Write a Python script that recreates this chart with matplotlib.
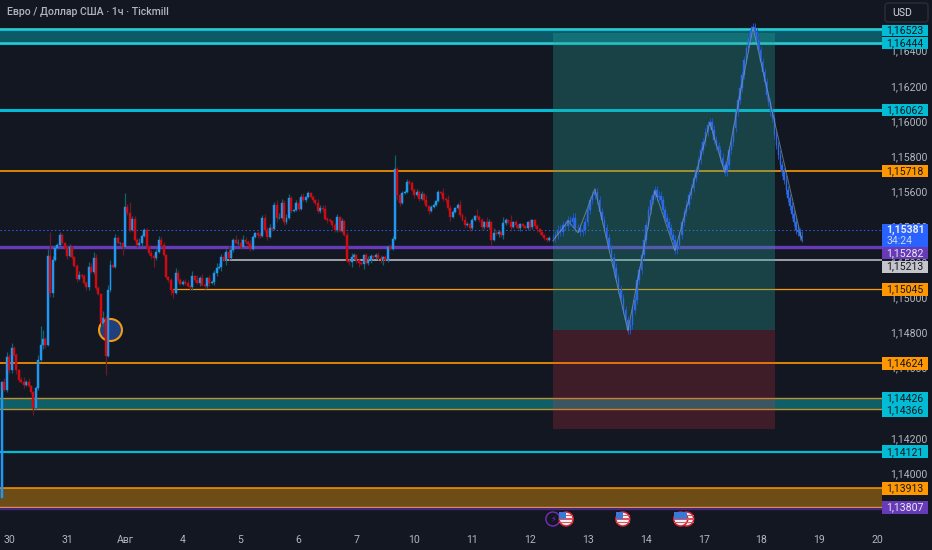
import numpy as np
import matplotlib
matplotlib.use('Agg')
import matplotlib.pyplot as plt
from matplotlib.patches import Rectangle, Ellipse, Circle, FancyBboxPatch

plt.rcParams['font.family'] = ['Roboto', 'DejaVu Sans']

# Prices are in points: 115263 means 1,15263
first_open = 113860
closes = [
    114513,114468,114655,114581,114706,114667,114581,114525,114513,114496,114513,114491,114456,114366,114479,114638,114723,114757,114723,115229,
    115019,115206,115274,115291,115348,115303,115274,115229,115280,115223,115172,115098,115121,115115,115075,115053,115166,115138,115218,115047,
    115013,114848,114877,114661,115036,115178,115166,115331,115303,115303,115280,115507,115473,115377,115439,115320,115291,115303,115343,115377,
    115280,115246,115229,115218,115252,115320,115291,115235,115110,115093,115036,115019,115132,115093,115070,115081,115075,115059,115053,115115,
    115093,115075,115104,115064,115059,115104,115075,115081,115132,115161,115166,115223,115206,115252,115218,115263,115320,115303,115303,115280,
    115320,115309,115297,115269,115337,115360,115348,115343,115445,115377,115337,115388,115382,115519,115445,115445,115530,115422,115445,115558,
    115485,115490,115530,115496,115564,115547,115564,115587,115564,115547,115530,115485,115502,115496,115439,115433,115428,115405,115377,115451,
    115371,115428,115348,115201,115195,115223,115235,115206,115189,115184,115235,115189,115206,115229,115223,115235,115218,115212,115223,115206,
    115280,115269,115325,115723,115575,115530,115587,115592,115649,115644,115604,115575,115592,115553,115581,115547,115513,115485,115507,115519,
    115541,115592,115587,115553,115547,115502,115451,115479,115502,115519,115462,115433,115405,115411,115388,115433,115456,115451,115433,115394,
    115422,115394,115422,115320,115360,115354,115365,115348,115416,115433,115422,115394,115422,115405,115388,115411,115399,115388,115422,115394,
    115433,115399,115382,115365,115348,115331,115320,115331,
]
upper_wick = [
    5,20,30,15,30,10,10,5,15,30,10,25,5,5,10,30,110,50,10,40,
    136,20,15,10,15,10,5,15,15,5,5,10,20,5,10,10,30,25,35,20,
    10,5,40,15,30,30,5,25,10,5,5,80,15,60,15,15,10,25,10,10,
    10,10,15,10,15,20,15,15,5,5,10,5,30,15,10,10,15,15,5,30,
    5,25,10,25,10,5,15,10,15,25,20,15,25,15,35,15,10,25,20,25,
    30,15,10,25,10,5,10,15,15,20,15,20,5,15,30,30,25,15,20,20,
    10,5,15,30,15,25,5,10,5,10,5,20,15,15,25,10,10,5,10,15,
    5,15,5,15,10,25,10,5,5,10,5,10,20,10,5,10,15,15,5,10,
    10,15,15,80,10,5,10,10,15,10,10,10,15,10,15,5,30,5,10,10,
    5,10,5,25,10,30,15,10,5,10,30,10,20,10,10,10,5,40,10,10,
    5,30,15,5,25,15,10,5,35,10,5,40,5,10,5,5,5,5,5,15,
    5,5,10,5,5,5,5,10,
]
lower_wick = [
    10,5,10,20,15,5,25,10,5,15,5,5,10,40,5,10,5,25,15,5,
    25,25,5,5,5,5,5,15,5,10,5,15,5,10,5,15,20,5,10,10,
    5,10,15,108,5,10,5,5,5,10,45,5,10,10,5,5,10,5,15,5,
    10,10,15,50,15,5,10,5,5,10,30,30,5,10,5,5,10,5,15,20,
    10,5,15,5,20,10,15,5,15,20,5,25,5,30,15,5,10,5,10,10,
    5,10,5,10,5,5,15,10,5,10,15,5,10,5,25,5,5,15,10,5,
    10,5,5,10,5,5,10,5,5,10,10,15,10,15,5,15,5,15,10,10,
    5,5,5,5,20,30,10,20,25,5,30,5,10,15,10,10,10,25,35,5,
    10,5,5,5,30,20,5,5,5,5,5,15,5,10,5,15,5,20,5,5,
    5,5,10,10,20,15,25,5,5,5,10,5,15,5,20,10,5,5,10,15,
    10,5,10,30,5,5,15,10,25,10,10,25,5,15,5,15,10,5,10,20,
    10,10,15,15,5,10,10,5,
]

# Projected path drawn after the real bars
proj_closes = [
    115331,115348,115377,115365,115405,115399,115433,115422,115445,115388,115388,115365,115377,115422,115490,115547,115575,115592,115547,115479,
    115433,115388,115331,115274,115218,115161,115104,115036,114990,114922,114865,114809,114837,114922,114979,115093,115149,115235,115320,115405,
    115490,115547,115575,115604,115564,115570,115547,115490,115445,115422,115388,115348,115320,115263,115291,115348,115422,115479,115519,115575,
    115615,115672,115717,115774,115831,115876,115933,115973,115990,115945,115888,115854,115831,115786,115746,115706,115746,115831,115876,115956,
    116047,116115,116183,116257,116342,116410,116467,116513,116530,116501,116456,116399,116331,116274,116217,116143,116104,116047,116013,115916,
    115859,115803,115746,115706,115661,115604,115558,115513,115467,115422,115377,115365,115343,115331,
]
proj_t = [
    228.5,229.5,230.5,231.6,232.6,233.6,234.7,235.7,236.7,237.7,238.8,239.8,240.8,241.8,242.9,243.9,244.9,245.9,246.9,247.9,
    248.9,249.8,250.8,251.8,252.8,253.8,254.7,255.7,256.7,257.7,258.7,259.6,260.6,261.5,262.5,263.4,264.3,265.3,266.2,267.1,
    268.1,269.0,269.9,270.8,271.6,272.5,273.3,274.1,274.9,275.8,276.6,277.4,278.3,279.1,280.1,281.0,282.0,283.0,283.9,284.9,
    285.9,286.9,287.8,288.8,289.8,290.7,291.7,292.7,293.6,294.5,295.4,296.3,297.2,298.0,298.9,299.8,300.7,301.6,302.5,303.4,
    304.3,305.2,306.1,307.0,307.8,308.7,309.6,310.5,311.4,312.2,313.0,313.8,314.7,315.5,316.3,317.1,317.9,318.7,319.5,320.4,
    321.2,322.0,322.8,323.6,324.4,325.3,326.1,326.9,327.7,328.5,329.3,330.1,330.9,331.7,
]
zigzag_t = [228.5, 234.8, 238.9, 245.9, 259.6, 270.8, 279.1, 293.6, 299.8, 311.5, 331.8]
zigzag_p = [115320, 115433, 115365, 115615, 114809, 115604, 115263, 115990, 115706, 116530, 115320]

day_ticks = [3, 27, 51, 75, 99, 123, 147, 171, 195, 219, 243, 267, 291, 315, 339, 363]
day_labels = ['30', '31', 'Авг', '4', '5', '6', '7', '10', '11', '12', '13', '14', '17', '18', '19', '20']
price_ticks = [114000, 114200, 114400, 114600, 114800, 115000, 115200, 115400, 115600, 115800, 116000, 116200, 116400]

last_price = 115381
box_left, box_right = 228.5, 320.5
box_top, box_mid, box_bottom = 116500, 114814, 114250

# the bars above were read about one pixel high against the price labels
read_offset = 5

BG = '#131722'
CYAN = '#00bcd4'
ORANGE = '#ff9800'
PURPLE = '#673ab7'
GREY = '#c3c5cb'

fig = plt.figure(figsize=(9.32, 5.5), dpi=100, facecolor=BG)
ax = fig.add_axes([0, 22 / 550, 882 / 932, 528 / 550], facecolor=BG)
ax.set_xlim(-0.83, 365)
ax.set_ylim(113688, 116688)

# zones
ax.axhspan(116444, 116523, color='#0c5a68', lw=0, zorder=1)
ax.axhspan(114366, 114426, color='#0e5f68', lw=0, zorder=1)
ax.axhspan(113807, 113913, color='#6e4c15', lw=0, zorder=1)

# horizontal levels
for p in [116523, 116444]:
    ax.axhline(p, color=CYAN, lw=2.2, zorder=2)
    ax.axhline(p, color='#c9c070', lw=0.4, alpha=0.8, zorder=2)
ax.axhline(116062, color=CYAN, lw=2.2, zorder=2)
ax.axhline(115718, color=ORANGE, lw=1.2, zorder=2)
ax.axhline(115282, color=PURPLE, lw=2.4, zorder=2)
ax.plot([92, 365], [115213, 115213], color=GREY, lw=1.1, zorder=2)
ax.plot([71, 365], [115045, 115045], color=ORANGE, lw=0.9, zorder=2)
ax.axhline(114624, color=ORANGE, lw=1.2, zorder=2)
ax.axhline(114426, color='#c58f2a', lw=1.0, zorder=2)
ax.axhline(114366, color='#c58f2a', lw=1.0, zorder=2)
ax.axhline(114121, color=CYAN, lw=1.6, zorder=2)
ax.axhline(113913, color=ORANGE, lw=1.1, zorder=2)
ax.axhline(113798, color='#4a1fa0', lw=1.0, zorder=2)
ax.axhline(113810, color='#d98a6a', lw=1.0, zorder=2)
ax.axhline(last_price, color='#2962ff', lw=0.7, ls=(0, (1.5, 2.5)), zorder=2)

# long position box
ax.add_patch(Rectangle((box_left, box_mid), box_right - box_left, box_top - box_mid,
                       fc='#26a69a', alpha=0.3, lw=0, zorder=3))
ax.add_patch(Rectangle((box_left, box_bottom), box_right - box_left, box_mid - box_bottom,
                       fc='#f23645', alpha=0.2, lw=0, zorder=3))

# marker under the dip
ax.add_patch(Ellipse((45, 114813), 9.5, 125, fc='#1f3f7d', ec='#f39c12', lw=1.5, zorder=4))

# candles
closes = np.array(closes, dtype=float) + read_offset
opens = np.r_[first_open, closes[:-1]]
t = np.arange(len(closes))
highs = np.maximum(opens, closes) + np.array(upper_wick)
lows = np.minimum(opens, closes) - np.array(lower_wick)
up = closes >= opens
ax.vlines(t[up], lows[up], highs[up], color='#0e6570', lw=0.9, zorder=5)
ax.vlines(t[~up], lows[~up], highs[~up], color='#6b1a28', lw=0.9, zorder=5)
ax.bar(t[up], (closes - opens)[up], bottom=opens[up], width=0.82, color='#2196f3',
       edgecolor='#2196f3', lw=0.3, zorder=6)
ax.bar(t[~up], (closes - opens)[~up], bottom=opens[~up], width=0.82, color='#d10a0f',
       edgecolor='#d10a0f', lw=0.3, zorder=6)

# projected bars and the path through them
proj_closes = np.array(proj_closes, dtype=float) + read_offset
proj_opens = np.r_[proj_closes[0], proj_closes[:-1]]
ax.vlines(proj_t, np.minimum(proj_opens, proj_closes) - 25, np.maximum(proj_opens, proj_closes) + 25,
          color='#1f55c8', lw=0.7, zorder=7)
ax.bar(proj_t, proj_closes - proj_opens, bottom=proj_opens, width=0.62, color='#2a6ae8',
       edgecolor='#2a6ae8', lw=0.3, zorder=7)
ax.plot(zigzag_t, zigzag_p, color='#8a9a98', lw=0.7, alpha=0.7, zorder=8)

# axes
for s in ax.spines.values():
    s.set_visible(False)
ax.yaxis.tick_right()
ax.set_yticks(price_ticks)
ax.set_yticklabels([f'{p / 100000:.5f}'.replace('.', ',') for p in price_ticks])
ax.set_xticks(day_ticks)
ax.set_xticklabels(day_labels)
ax.tick_params(axis='y', length=0, pad=6, labelsize=7.6, labelcolor='#b2b5be')
ax.tick_params(axis='x', length=0, pad=5, labelsize=7.6, labelcolor='#b2b5be')

# title and currency button
fig.text(7 / 932, 1 - 12 / 550, 'Евро / Доллар США · 1ч · Tickmill', color='#b2b5be',
         fontsize=7.6, fontweight='medium', va='center', ha='left')
fig.patches.append(FancyBboxPatch((885, 550 - 22), 43, 19, boxstyle='round,pad=0,rounding_size=3',
                                  fc='#131722', ec='#2a2e39', lw=1, transform=None, figure=fig))
fig.text(892 / 932, 1 - 13 / 550, 'USD', color='#d1d4dc', fontsize=7.6, va='center', ha='left')

# price scale labels: price, colour, text colour, height of the box, nudge in pixels
labels = [
    (116523, CYAN, '#131722', 11, 1),
    (116444, CYAN, '#131722', 12, 0),
    (116062, CYAN, '#131722', 12, 0),
    (115718, ORANGE, '#131722', 12, 0),
    (115282, PURPLE, '#e8e8f0', 12, 6),
    (115213, GREY, '#131722', 12, 7),
    (115045, ORANGE, '#131722', 13, 0),
    (114624, ORANGE, '#131722', 13, 0),
    (114426, CYAN, '#131722', 13, 0),
    (114366, CYAN, '#131722', 13, 2),
    (114121, CYAN, '#131722', 13, 0),
    (113913, ORANGE, '#131722', 13, 0),
    (113807, PURPLE, '#e8e8f0', 13, 0),
]
fig.canvas.draw()


def y_px(price):
    return ax.transData.transform((0, price))[1]


def add_label(y, h, color):
    fig.patches.append(Rectangle((882, y - h / 2), 46, h, fc=color, lw=0, transform=None, figure=fig, zorder=2))


for price, color, text_color, h, nudge in labels:
    y = y_px(price) - nudge
    add_label(y, h, color)
    fig.text(905 / 932, y / 550, f'{price / 100000:.5f}'.replace('.', ','), color=text_color,
             fontsize=7.6, ha='center', va='center', zorder=3)

# last price label with countdown
y_last = 550 - 235.5
add_label(y_last, 23, '#2962ff')
fig.text(905 / 932, (y_last + 6) / 550, '1,15381', color='#e8eaf0', fontsize=7.6, fontweight='bold',
         ha='center', va='center', zorder=3)
fig.text(900 / 932, (y_last - 5.5) / 550, '34:24', color='#c8d4f0', fontsize=7.6, ha='center', va='center', zorder=3)

# event icons on the time axis
event_t = [228.5, 234.0, 257.5, 281.5, 284.0]
event_kind = ['flash', 'flag', 'flag', 'flag', 'flag']
for when, kind in sorted(zip(event_t, event_kind), key=lambda e: -e[0]):
    cx = ax.transData.transform((when, 115000))[0]
    cy = 550 - 519
    if kind == 'flash':
        ax.add_patch(Circle((cx, cy), 7, fc=BG, ec='#7b2cbf', lw=1, transform=None, clip_on=False, zorder=9))
        fig.text(cx / 932, cy / 550, '⚡', color='#7b2cbf', fontsize=6, ha='center', va='center',
                 family='DejaVu Sans', zorder=3)
        continue
    ring = Circle((cx, cy), 7, fc='#eeeef2', ec='#d0202e', lw=1.1, transform=None, clip_on=False, zorder=10)
    ax.add_patch(ring)
    for dy in (3.5, 0, -3.5):
        band = Rectangle((cx - 7, cy + dy - 0.9), 14, 1.8, fc='#e0525a', lw=0, transform=None, clip_on=False, zorder=10.1)
        ax.add_patch(band)
        band.set_clip_path(ring)
    canton = Rectangle((cx - 7, cy), 7, 7, fc='#3a78d8', lw=0, transform=None, clip_on=False, zorder=10.2)
    ax.add_patch(canton)
    canton.set_clip_path(ring)

fig.savefig('out.png', dpi=100, facecolor=BG)
